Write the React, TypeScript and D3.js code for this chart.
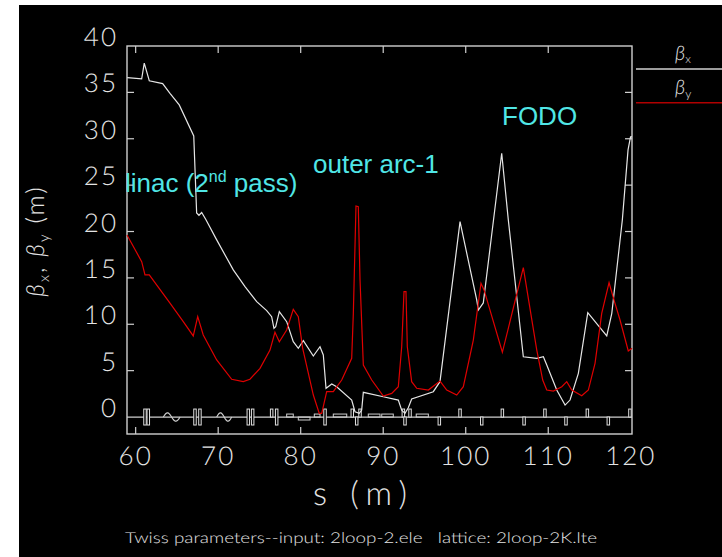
import React from 'react';
import * as d3 from 'd3';

const W = 722;
const H = 557;

// beta_x (m) vs s (m)
const betaX: [number, number][] = [
  [58.98, 36.6], [60.73, 36.45], [61.04, 38.15], [61.65, 36.25], [63.27, 35.95], [64.16, 34.9],
  [65.28, 33.65], [67.04, 30.3], [67.39, 22.0], [67.67, 21.75], [68.0, 22.05], [68.52, 21.27],
  [69.82, 19.1], [71.83, 15.86], [73.25, 14.06], [74.67, 12.44], [75.88, 11.47], [76.48, 10.82],
  [76.76, 9.57], [76.97, 9.74], [77.41, 11.36], [78.3, 10.28], [79.1, 8.12], [79.71, 7.41],
  [80.32, 8.23], [81.53, 6.58], [82.34, 7.58], [82.74, 6.69], [83.07, 3.1], [83.76, 3.56],
  [84.36, 3.27], [86.18, 1.83], [86.58, 0.57], [87.1, 0.4], [87.39, 0.75], [87.59, 2.66],
  [90.01, 2.19], [91.83, 1.83], [92.24, 0.75], [92.64, 0.4], [93.04, 1.0], [93.45, 1.94],
  [96.07, 2.73], [96.88, 3.81], [99.31, 21.06], [101.33, 12.62], [101.53, 11.54], [102.13, 12.3],
  [104.36, 28.44], [105.16, 21.25], [106.98, 6.5], [108.61, 6.33], [109.41, 6.5], [109.82, 5.61],
  [111.03, 2.91], [112.04, 1.29], [112.64, 1.83], [113.65, 4.71], [114.79, 11.25], [117.09, 8.74],
  [117.7, 11.18], [118.98, 21.25], [119.67, 28.8], [119.97, 30.2], [120.15, 30.2],
];

// beta_y (m) vs s (m)
const betaY: [number, number][] = [
  [58.95, 19.63], [60.73, 16.75], [61.13, 15.32], [61.65, 15.32], [64.16, 12.27], [65.77, 10.28],
  [66.98, 8.74], [67.52, 10.82], [68.19, 8.84], [69.82, 6.15], [71.64, 4.07], [73.04, 3.81],
  [73.85, 4.07], [75.07, 5.25], [76.28, 7.22], [76.88, 9.13], [77.41, 8.12], [78.3, 9.38],
  [79.1, 11.61], [79.71, 10.82], [80.24, 7.41], [81.53, 2.37], [82.25, 0.4], [82.55, 0.4],
  [83.15, 2.73], [83.95, 2.73], [84.97, 3.99], [86.18, 6.33], [86.38, 11.18], [86.7, 22.75],
  [86.98, 22.67], [87.19, 14.77], [87.59, 5.61], [88.61, 3.99], [90.01, 2.26], [91.03, 2.55],
  [91.83, 3.27], [92.24, 7.58], [92.52, 13.51], [92.76, 13.51], [92.92, 7.58], [93.45, 3.81],
  [94.06, 3.1], [95.47, 2.91], [96.88, 3.88], [97.7, 2.91], [98.91, 2.37], [99.71, 3.27],
  [100.92, 8.3], [101.85, 14.42], [102.22, 13.7], [104.44, 6.98], [106.98, 16.1], [108.61, 7.22],
  [109.33, 3.99], [109.82, 2.91], [110.62, 2.8], [111.64, 3.27], [112.24, 3.81], [112.85, 2.91],
  [114.06, 2.3], [114.86, 2.91], [115.67, 5.79], [116.48, 11.18], [117.37, 14.48], [118.09, 12.26],
  [118.7, 10.46], [119.7, 7.12], [120.15, 7.41],
];

// lattice elements: quadrupoles [s, side] (1 up, -1 down, 0 both)
const quads: [number, number][] = [
  [61.13, 0], [61.53, 0], [67.19, 0], [67.79, 0], [73.65, 0], [74.18, 0], [76.48, 1], [77.09, 0],
  [82.95, 0], [86.25, 1], [86.79, -1], [87.19, 1], [92.44, 1], [92.64, -1], [93.25, 1], [96.8, -1],
  [99.31, 1], [101.94, -1], [104.44, 1], [107.07, -1], [109.6, 1], [112.15, -1], [114.74, 1],
  [117.28, -1], [119.9, 1],
];
// dipoles [sStart, sEnd, side]
const bends: [number, number, number][] = [
  [78.3, 79.1, 1], [79.71, 81.13, -1], [81.65, 82.34, 1], [83.95, 85.58, 1],
  [88.19, 89.61, 1], [89.82, 91.22, 1], [94.0, 95.47, 1],
];
// rf cavities [sStart, sEnd]
const cavities: [number, number][] = [[63.35, 65.37], [69.82, 71.64]];

const xTickValues = [60, 70, 80, 90, 100, 110, 120];
const xTickMarks = [60, 70, 80, 90, 100, 110];
const yTickValues = [0, 5, 10, 15, 20, 25, 30, 35, 40];

const FG = '#e4e4e4';
const THIN = "Lato, 'DejaVu Sans', sans-serif";

export default function App() {
  const sx = d3.scaleLinear().domain([58.95, 120.15]).range([127, 632]);
  const sy = d3.scaleLinear().domain([-1.83, 40]).range([434, 46]);
  const line = d3.line<[number, number]>().x(d => sx(d[0])).y(d => sy(d[1]));

  const quadHalf = 0.86;
  const quadW = 0.3;
  const bendH = 0.32;
  const cavAmp = 0.45;

  const cavPath = (c: [number, number]) => {
    const pts: [number, number][] = d3.range(0, 1.0001, 0.04).map(t => [
      c[0] + t * (c[1] - c[0]),
      cavAmp * Math.sin(2 * Math.PI * t),
    ]);
    return line(pts) || '';
  };

  const x0 = sx.range()[0], x1 = sx.range()[1];
  const yTop = sy.range()[1], yBot = sy.range()[0];
  const textStyle = { textRendering: 'geometricPrecision' as const };

  return (
    <svg width={W} height={H} style={{ position: 'absolute', left: 0, top: 0, background: '#fff' }}>
      <rect x={19} y={5} width={W - 19} height={H - 5} fill="#000" />
      {/* frame */}
      <rect x={x0} y={yTop} width={x1 - x0} height={yBot - yTop} fill="none" stroke="#cfcfcf" strokeWidth={1.4} />
      {/* ticks */}
      {xTickMarks.map(v => (
        <g key={'xt' + v}>
          <line x1={sx(v)} x2={sx(v)} y1={yTop} y2={yTop + 7} stroke="#cfcfcf" strokeWidth={1.2} />
          <line x1={sx(v)} x2={sx(v)} y1={yBot} y2={yBot - 7} stroke="#cfcfcf" strokeWidth={1.2} />
        </g>
      ))}
      {yTickValues.filter(v => v > 0 && v < 40).map(v => (
        <g key={'yt' + v}>
          <line x1={x0} x2={x0 + 7} y1={sy(v)} y2={sy(v)} stroke="#cfcfcf" strokeWidth={1.2} />
          <line x1={x1} x2={x1 - 7} y1={sy(v)} y2={sy(v)} stroke="#cfcfcf" strokeWidth={1.2} />
        </g>
      ))}
      {/* tick labels */}
      {xTickValues.map(v => (
        <text key={'xl' + v} x={sx(v)} y={465} fill={FG} fontFamily={THIN} fontWeight={300}
          fontSize={26} textAnchor="middle" letterSpacing={2} style={textStyle}>{v}</text>
      ))}
      {yTickValues.map(v => (
        <text key={'yl' + v} x={118} y={sy(v)} fill={FG} fontFamily={THIN} fontWeight={300}
          fontSize={26} textAnchor="end" letterSpacing={2} style={textStyle}>{v}</text>
      ))}
      {/* axis titles */}
      <text x={313} y={505} fill={FG} fontFamily={THIN} fontWeight={300} fontSize={33}
        textLength={94} lengthAdjust="spacing" style={textStyle}>s (m)</text>
      <text transform="translate(44,241) rotate(-90)" fill={FG} fontFamily={THIN} fontWeight={300}
        fontSize={25} textAnchor="middle" letterSpacing={2} style={textStyle}>
        <tspan fontStyle="italic">β</tspan><tspan fontSize={15} dy={5}>x</tspan>
        <tspan dy={-5}>, </tspan><tspan fontStyle="italic">β</tspan><tspan fontSize={15} dy={5}>y</tspan>
        <tspan dy={-5}> (m)</tspan>
      </text>
      <text x={125} y={543} fill={FG} fontFamily={THIN} fontWeight={300} fontSize={15}
        textLength={472} lengthAdjust="spacingAndGlyphs" style={{ whiteSpace: 'pre', ...textStyle }}>
        {'Twiss parameters--input: 2loop-2.ele   lattice: 2loop-2K.lte'}
      </text>

      {/* lattice */}
      <line x1={x0} x2={x1} y1={sy(0)} y2={sy(0)} stroke="#cfcfcf" strokeWidth={1.2} />
      {quads.map((q, i) => {
        const top = q[1] >= 0 ? quadHalf : 0;
        const bot = q[1] <= 0 ? -quadHalf : 0;
        return (
          <rect key={'q' + i} x={sx(q[0] - quadW / 2)} y={sy(top)} width={sx(q[0] + quadW / 2) - sx(q[0] - quadW / 2)}
            height={sy(bot) - sy(top)} fill="#000" stroke="#e0e0e0" strokeWidth={1} />
        );
      })}
      {bends.map((b, i) => {
        const top = b[2] > 0 ? bendH : 0;
        const bot = b[2] > 0 ? 0 : -bendH;
        return (
          <rect key={'b' + i} x={sx(b[0])} y={sy(top)} width={sx(b[1]) - sx(b[0])}
            height={sy(bot) - sy(top)} fill="none" stroke="#cfcfcf" strokeWidth={1} />
        );
      })}
      {cavities.map((c, i) => (
        <path key={'c' + i} d={cavPath(c)} fill="none" stroke="#cfcfcf" strokeWidth={1.2} />
      ))}

      {/* curves */}
      <path d={line(betaX) || ''} fill="none" stroke="#e6e6e6" strokeWidth={1.2} />
      <path d={line(betaY) || ''} fill="none" stroke="#e00000" strokeWidth={1.2} />

      {/* legend */}
      <text x={675} y={60} fill={FG} fontFamily={THIN} fontWeight={300} fontSize={20} fontStyle="italic" style={textStyle}>β<tspan fontSize={12} dy={3} fontStyle="normal">x</tspan></text>
      <line x1={636} x2={W} y1={69} y2={69} stroke="#d0d0d0" strokeWidth={1.4} />
      <text x={675} y={94} fill={FG} fontFamily={THIN} fontWeight={300} fontSize={20} fontStyle="italic" style={textStyle}>β<tspan fontSize={12} dy={4} fontStyle="normal">y</tspan></text>
      <line x1={636} x2={W} y1={102.7} y2={102.7} stroke="#b00000" strokeWidth={1.4} />

      {/* annotations */}
      <text x={125} y={192} fill="#50e6e6" fontFamily="'Liberation Sans', Arial, sans-serif" fontSize={26}>
        linac (2<tspan fontSize={16} dy={-10}>nd</tspan><tspan dy={10}> pass)</tspan>
      </text>
      <text x={313} y={173} fill="#50e6e6" fontFamily="'Liberation Sans', Arial, sans-serif" fontSize={26}>outer arc-1</text>
      <text x={502} y={125} fill="#50e6e6" fontFamily="'Liberation Sans', Arial, sans-serif" fontSize={26}>FODO</text>
    </svg>
  );
}
